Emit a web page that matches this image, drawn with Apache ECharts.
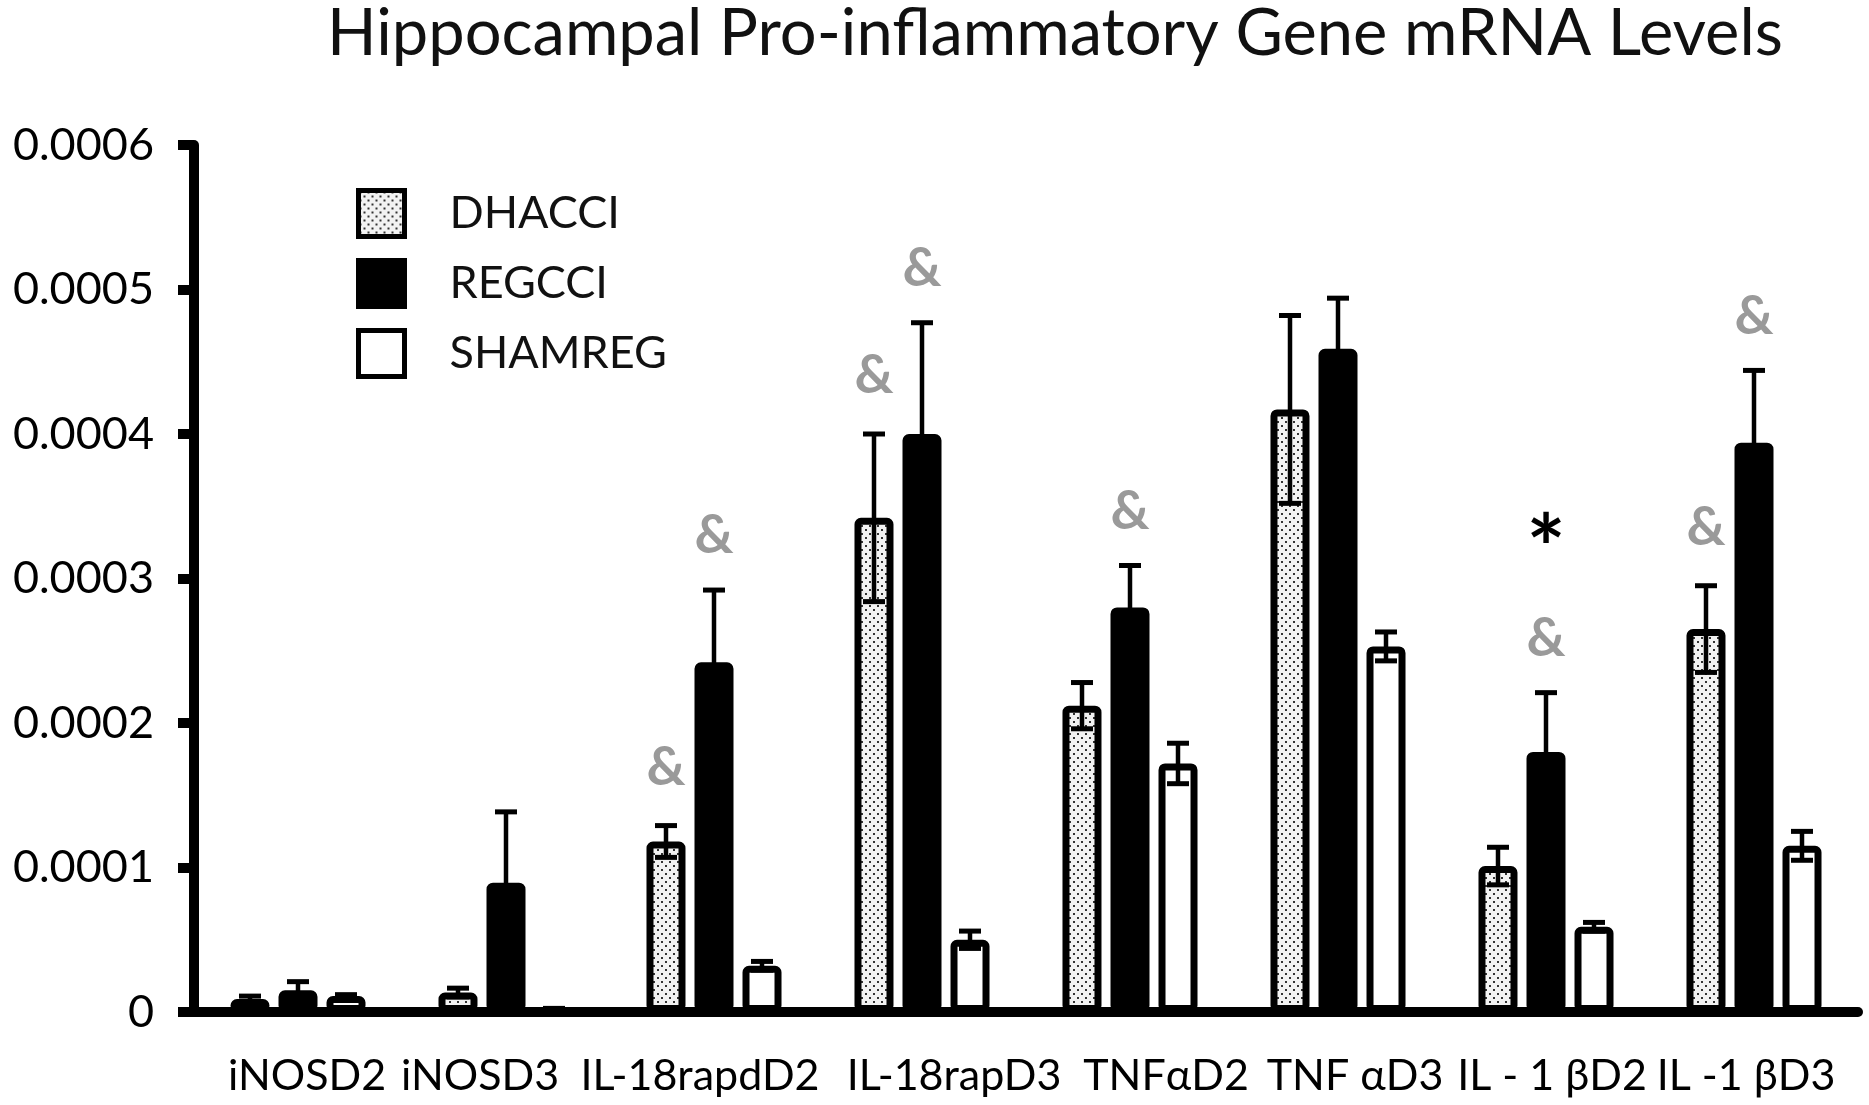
<!DOCTYPE html>
<html>
<head>
<meta charset="utf-8">
<script src="https://cdn.jsdelivr.net/npm/echarts@6/dist/echarts.min.js"></script>
<style>
html,body{margin:0;padding:0;background:#fff;}
#chart{width:1869px;height:1105px;}
</style>
</head>
<body>
<div id="chart"></div>
<script>
// ---- data ----
const categories = ['iNOSD2', 'iNOSD3', 'IL-18rapdD2', 'IL-18rapD3', 'TNFαD2', 'TNF αD3', 'IL - 1 βD2', 'IL -1 βD3'];
const seriesNames = ['DHACCI', 'REGCCI', 'SHAMREG'];
const dhacci    = [0.000009, 0.0000135, 0.000118, 0.000342, 0.000212, 0.000417, 0.000101, 0.000265];
const dhacciErr = [0.000002, 0.000003, 0.000011, 0.000058, 0.000016, 0.000065, 0.000013, 0.000030];
const regcci    = [0.000015, 0.0000895, 0.000242, 0.000400, 0.000280, 0.000459, 0.000180, 0.000394];
const regcciErr = [0.000006, 0.000049, 0.000050, 0.000077, 0.000029, 0.000035, 0.000041, 0.000050];
const shamreg   = [0.000011, 0.0000015, 0.000032, 0.000050, 0.000172, 0.000253, 0.000059, 0.000115];
const shamregErr= [0.000001, 0.000001, 0.000003, 0.000006, 0.000014, 0.000010, 0.000003, 0.000010];
const dhacciMarks = ['', '', '&', '&', '', '', '', '&'];
const regcciMarks = ['', '', '&', '&', '&', '', '&', '&'];
const regcciStars = ['', '', '', '', '', '', '*', ''];
const yTickLabels = ['0', '0.0001', '0.0002', '0.0003', '0.0004', '0.0005', '0.0006'];

// ---- styling ----
const FONT = 'Lato';
const barW = 39, border = 7, pitch = 48;
const offsets = [-pitch, 0, pitch];
const labelShift = [9, -26, -14, 32, 36, 17, 6, -8];

function dotPattern() {
  const c = document.createElement('canvas');
  c.width = 8; c.height = 8;
  const g = c.getContext('2d');
  g.fillStyle = '#f2f2f2'; g.fillRect(0, 0, 8, 8);
  g.fillStyle = '#333';
  g.fillRect(1, 1, 2, 2);
  g.fillRect(5, 5, 2, 2);
  return c;
}
const dotFill = { image: dotPattern(), repeat: 'repeat' };

const vals = [dhacci, regcci, shamreg];
const errs = [dhacciErr, regcciErr, shamregErr];
const fills = [dotFill, '#000', '#fff'];

const chart = echarts.init(document.getElementById('chart'), null, { renderer: 'canvas' });

function errSeries(k) {
  return {
    type: 'custom',
    z: 5,
    silent: true,
    data: vals[k].map((v, i) => [i, v, errs[k][i]]),
    encode: { x: 0, y: 1 },
    renderItem: function (params, api) {
      const i = api.value(0), v = api.value(1), e = api.value(2);
      const top = api.coord([i, v + e]);
      const bot = api.coord([i, v - e]);
      const x = top[0] + offsets[k];
      const cap = 11;
      const st = { stroke: '#000', lineWidth: 5 };
      return {
        type: 'group',
        children: [
          { type: 'line', shape: { x1: x, y1: top[1], x2: x, y2: bot[1] }, style: { stroke: '#000', lineWidth: 4.5 } },
          { type: 'line', shape: { x1: x - cap, y1: top[1], x2: x + cap, y2: top[1] }, style: st },
          { type: 'line', shape: { x1: x - cap, y1: bot[1], x2: x + cap, y2: bot[1] }, style: st }
        ]
      };
    }
  };
}

function markSeries(k, marks, dy, color, size) {
  return {
    type: 'custom',
    z: 6,
    silent: true,
    data: vals[k].map((v, i) => [i, v + errs[k][i]]),
    encode: { x: 0, y: 1 },
    renderItem: function (params, api) {
      const i = api.value(0);
      const t = marks[params.dataIndex];
      if (!t) return null;
      const p = api.coord([i, api.value(1)]);
      return {
        type: 'text',
        style: {
          text: t, x: p[0] + offsets[k], y: p[1] - dy,
          fill: color, font: 'bold ' + size + 'px ' + FONT,
          align: 'center', verticalAlign: 'middle'
        }
      };
    }
  };
}

const rich = {};
labelShift.forEach((s, i) => {
  rich['l' + i] = {
    fontSize: 43, fontFamily: FONT, color: '#000',
    padding: s >= 0 ? [0, 0, 0, 2 * s] : [0, -2 * s, 0, 0]
  };
});

const option = {
  animation: false,
  backgroundColor: '#fff',
  title: {
    text: 'Hippocampal Pro-inflammatory Gene mRNA Levels',
    left: 1050, top: -3, textAlign: 'center',
    textStyle: { fontFamily: FONT, fontSize: 65, fontWeight: 'normal', color: '#111' }
  },
  legend: {
    data: seriesNames,
    orient: 'vertical',
    left: 351, top: 183,
    itemWidth: 46, itemHeight: 46, itemGap: 19,
    icon: 'rect',
    selectedMode: false,
    itemStyle: { borderWidth: 5, borderColor: '#000' },
    textStyle: { fontFamily: FONT, fontSize: 45, color: '#111', padding: [0, 0, 0, 40] }
  },
  grid: { left: 194, right: 11, top: 145, bottom: 93, containLabel: false },
  xAxis: {
    type: 'category',
    data: categories,
    axisLine: { show: true, lineStyle: { color: '#000', width: 10 } },
    axisTick: { show: false },
    axisLabel: {
      interval: 0, margin: 43, hideOverlap: false,
      formatter: (v, i) => '{l' + i + '|' + v + '}',
      rich: rich,
      fontSize: 43, fontFamily: FONT, color: '#000'
    },
    splitLine: { show: false }
  },
  yAxis: {
    type: 'value',
    min: 0, max: 0.0006, interval: 0.0001,
    axisLine: { show: true, lineStyle: { color: '#000', width: 10 } },
    axisTick: { show: true, length: 16, lineStyle: { color: '#000', width: 10 } },
    axisLabel: {
      margin: 40, fontSize: 45, fontFamily: FONT, color: '#000',
      formatter: v => yTickLabels[Math.round(v / 0.0001)]
    },
    splitLine: { show: false }
  },
  series: [
    ...seriesNames.map((n, k) => ({
      name: n, type: 'bar', data: vals[k],
      barWidth: barW, barGap: ((pitch - barW) / barW * 100).toFixed(1) + '%',
      itemStyle: { color: fills[k], borderColor: '#000', borderWidth: border, borderRadius: 3 },
      emphasis: { disabled: true },
      z: 2
    })),
    errSeries(0), errSeries(1), errSeries(2),
    markSeries(0, dhacciMarks, 58, '#9a9a9a', 54),
    markSeries(1, regcciMarks, 54, '#9a9a9a', 54),
    markSeries(1, regcciStars, 140, '#000', 92)
  ]
};
chart.setOption(option);
</script>
</body>
</html>
